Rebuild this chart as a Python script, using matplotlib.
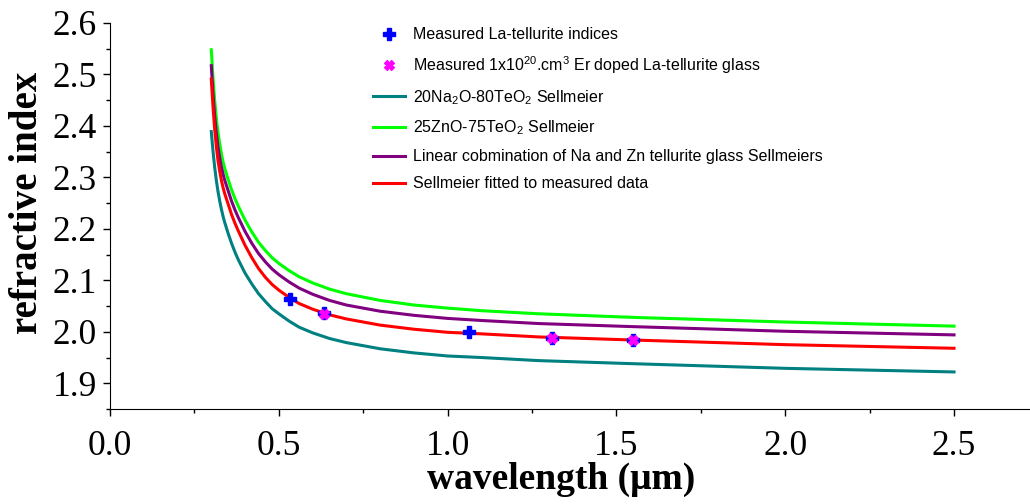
import numpy as np
import matplotlib.pyplot as plt
from matplotlib.ticker import MultipleLocator

plt.rcParams['font.family'] = 'Liberation Serif'
plt.rcParams['mathtext.fontset'] = 'custom'
plt.rcParams['mathtext.rm'] = 'Liberation Sans'
plt.rcParams['mathtext.default'] = 'regular'

# measured refractive indices
lam_la = [0.532, 0.633, 1.064, 1.31, 1.55]
n_la = [2.064, 2.036, 2.000, 1.987, 1.984]
lam_er = [0.633, 1.31, 1.55]
n_er = [2.035, 1.987, 1.984]

# Sellmeier curves, sampled wavelengths (um)
lam = [0.300, 0.305, 0.310, 0.315, 0.320, 0.325, 0.330, 0.335, 0.340, 0.350,
       0.360, 0.370, 0.380, 0.400, 0.420, 0.440, 0.460, 0.480, 0.500, 0.530,
       0.560, 0.600, 0.650, 0.700, 0.800, 0.900, 1.000, 1.100, 1.270, 1.550,
       2.000, 2.500]
n_na = [2.389, 2.352, 2.320, 2.294, 2.272, 2.254, 2.238, 2.224, 2.212, 2.191,
        2.172, 2.155, 2.140, 2.114, 2.093, 2.074, 2.059, 2.045, 2.035, 2.021,
        2.009, 1.998, 1.987, 1.979, 1.967, 1.959, 1.953, 1.950, 1.944, 1.938,
        1.929, 1.922]
n_zn = [2.548, 2.494, 2.450, 2.415, 2.387, 2.365, 2.346, 2.330, 2.317, 2.296,
        2.276, 2.259, 2.244, 2.217, 2.194, 2.174, 2.158, 2.144, 2.133, 2.119,
        2.107, 2.095, 2.083, 2.074, 2.061, 2.052, 2.046, 2.041, 2.035, 2.028,
        2.019, 2.011]
n_lin = [2.517, 2.464, 2.420, 2.386, 2.358, 2.338, 2.320, 2.306, 2.294, 2.274,
         2.254, 2.237, 2.222, 2.195, 2.172, 2.152, 2.136, 2.122, 2.111, 2.097,
         2.085, 2.073, 2.061, 2.052, 2.040, 2.032, 2.026, 2.022, 2.016, 2.010,
         2.001, 1.994]
n_fit = [2.491, 2.438, 2.394, 2.360, 2.332, 2.312, 2.294, 2.280, 2.268, 2.248,
         2.228, 2.211, 2.196, 2.168, 2.144, 2.123, 2.106, 2.092, 2.081, 2.067,
         2.055, 2.044, 2.033, 2.025, 2.013, 2.005, 1.999, 1.996, 1.990, 1.984,
         1.975, 1.968]

fig = plt.figure(figsize=(10.3, 5.04), dpi=100)
ax = fig.add_axes([0.1068, 0.1885, 0.8932, 0.7659])

lw = 2.2
ax.plot(lam, n_na, color='#008080', lw=lw, label='20Na$_2$O-80TeO$_2$ Sellmeier', zorder=2)
ax.plot(lam, n_zn, color='#00ff00', lw=lw, label='25ZnO-75TeO$_2$ Sellmeier', zorder=2)
ax.plot(lam, n_lin, color='#800080', lw=lw,
        label='Linear cobmination of Na and Zn tellurite glass Sellmeiers', zorder=2)
ax.plot(lam, n_fit, color='#ff0000', lw=lw, label='Sellmeier fitted to measured data', zorder=2)
ax.plot(lam_la, n_la, ls='none', marker='P', ms=8, color='#0000ff', mec='#0000ff',
        label='Measured La-tellurite indices', zorder=3)
ax.plot(lam_er, n_er, ls='none', marker='X', ms=7, color='#ff00ff', mec='#ff00ff',
        label='Measured 1x10$^{20}$.cm$^3$ Er doped La-tellurite glass', zorder=4)

ax.set_xlim(0, 2.725)
ax.set_ylim(1.85, 2.6)
ax.xaxis.set_major_locator(MultipleLocator(0.5))
ax.xaxis.set_minor_locator(MultipleLocator(0.25))
ax.yaxis.set_major_locator(MultipleLocator(0.1))
ax.yaxis.set_minor_locator(MultipleLocator(0.05))
ax.xaxis.set_major_formatter(lambda v, p: f'{v:.1f}')
ax.yaxis.set_major_formatter(lambda v, p: f'{v:.1f}')

ax.spines['top'].set_visible(False)
ax.spines['right'].set_visible(False)
ax.tick_params(which='major', length=5, width=1, labelsize=25.5)
ax.tick_params(which='minor', length=3, width=1)
ax.tick_params(axis='x', which='major', pad=10)
ax.tick_params(axis='y', which='major', pad=4.5)

ax.set_xlabel('wavelength (\u03bcm)', fontsize=27, fontweight='bold')
ax.set_ylabel('refractive index', fontsize=28, fontweight='bold')
ax.xaxis.set_label_coords(0.490, -0.182)
ax.xaxis.label.set_va('center')
ax.yaxis.set_label_coords(-0.090, 0.535)
ax.yaxis.label.set_va('center')

h, l = ax.get_legend_handles_labels()
order = [4, 5, 0, 1, 2, 3]
ax.legend([h[i] for i in order], [l[i] for i in order],
          loc='upper left', bbox_to_anchor=(0.362, 0.946), bbox_transform=fig.transFigure,
          frameon=False, borderpad=0, borderaxespad=0, handlelength=2.0,
          handletextpad=0.5, labelspacing=0.75,
          prop={'family': 'Liberation Sans', 'size': 11.5})

fig.savefig('out.png', dpi=100)
